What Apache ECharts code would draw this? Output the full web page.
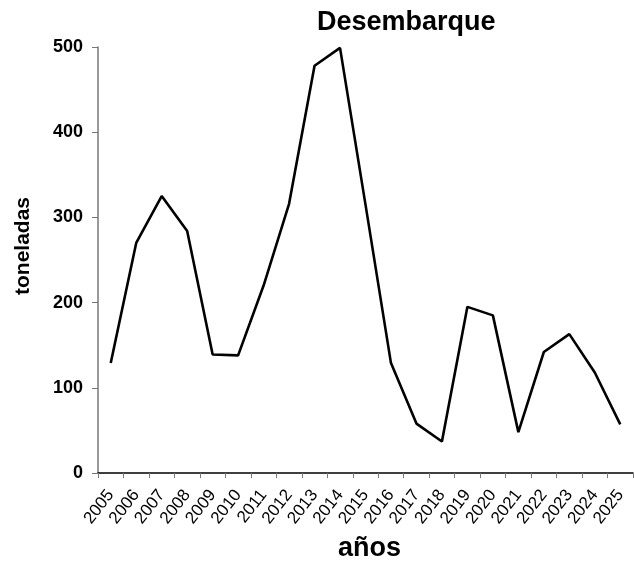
<!DOCTYPE html>
<html>
<head>
<meta charset="utf-8">
<script src="https://cdn.jsdelivr.net/npm/echarts@6/dist/echarts.min.js"></script>
<style>
  html, body { margin: 0; padding: 0; background: #fff; }
  #chart { width: 634px; height: 563px; }
</style>
</head>
<body>
<div id="chart"></div>
<script>
// años
var years = ['2005', '2006', '2007', '2008', '2009', '2010', '2011', '2012', '2013', '2014', '2015',
             '2016', '2017', '2018', '2019', '2020', '2021', '2022', '2023', '2024', '2025'];
// toneladas
var desembarque = [129, 270, 325, 284, 139, 138, 220, 316, 478, 499, 315,
                   129, 58, 37, 195, 185, 48, 142, 163, 118, 57];
var yTicks = [0, 100, 200, 300, 400, 500];

var myChart = echarts.init(document.getElementById('chart'));
var fontFam = '"Liberation Sans", Arial, sans-serif';

var option = {
    backgroundColor: '#ffffff',
    animation: false,
    title: {
        text: 'Desembarque',
        left: 312,
        top: 4,
        textStyle: {
            color: '#000',
            fontFamily: fontFam,
            fontWeight: 'bold',
            fontSize: 27
        }
    },
    grid: {
        left: 98,
        right: 1,
        top: 47,
        bottom: 90,
        containLabel: false,
        outerBoundsMode: 'none'
    },
    xAxis: {
        type: 'category',
        data: years,
        boundaryGap: true,
        name: 'años',
        nameLocation: 'middle',
        nameGap: 62,
        nameTextStyle: {
            color: '#000',
            fontFamily: fontFam,
            fontWeight: 'bold',
            fontSize: 27,
            padding: [0, 0, 0, 8]
        },
        axisLine: { lineStyle: { color: '#000', width: 1.5 } },
        axisTick: { show: true, inside: false, length: 5, lineStyle: { color: '#777' } },
        axisLabel: {
            rotate: 52,
            interval: 0,
            margin: 19,
            color: '#000',
            fontFamily: fontFam,
            fontSize: 17
        },
        splitLine: { show: false }
    },
    yAxis: {
        type: 'value',
        min: yTicks[0],
        max: yTicks[yTicks.length - 1],
        interval: 100,
        name: 'toneladas',
        nameLocation: 'middle',
        nameGap: 64,
        nameTextStyle: {
            color: '#000',
            fontFamily: fontFam,
            fontWeight: 'bold',
            fontSize: 21,
            padding: [0, 0, 0, 28]
        },
        axisLine: { show: true, lineStyle: { color: '#777', width: 1.5 } },
        axisTick: { show: true, inside: false, length: 6, lineStyle: { color: '#777' } },
        axisLabel: {
            margin: 15,
            color: '#000',
            fontFamily: fontFam,
            fontWeight: 'bold',
            fontSize: 18
        },
        splitLine: { show: false }
    },
    series: [{
        name: 'Desembarque',
        type: 'line',
        data: desembarque,
        showSymbol: false,
        symbol: 'none',
        smooth: false,
        lineStyle: { color: '#000', width: 2.6 }
    }]
};
myChart.setOption(option);
</script>
</body>
</html>
